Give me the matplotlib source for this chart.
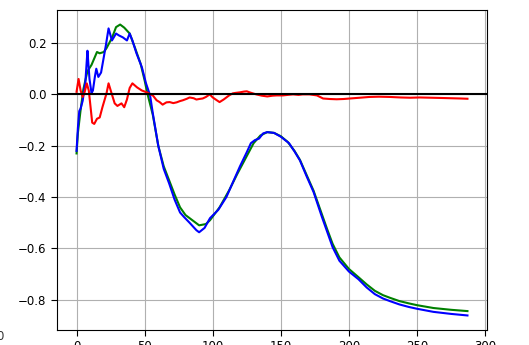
import numpy as np
import matplotlib.pyplot as plt

# green curve
x_verde = [0, 1, 3, 5, 8, 11, 13, 15, 17, 20, 22, 26, 29, 32, 35, 39, 43, 47, 50, 52,
           56, 60, 64, 68, 72, 76, 80, 85, 90, 95, 98, 105, 112, 118, 124, 130, 135, 140,
           145, 150, 155, 160, 164, 169, 174, 180, 184, 188, 193, 200, 207, 213, 219, 225,
           230, 237, 244, 250, 262, 275, 287]
y_verde = [-0.23, -0.15, -0.06, 0.02, 0.09, 0.115, 0.14, 0.165, 0.16, 0.165, 0.18, 0.22,
           0.262, 0.272, 0.26, 0.237, 0.18, 0.12, 0.054, 0.004, -0.08, -0.2, -0.28, -0.335,
           -0.39, -0.44, -0.47, -0.49, -0.51, -0.505, -0.49, -0.44, -0.374, -0.31, -0.25,
           -0.19, -0.16, -0.147, -0.15, -0.163, -0.185, -0.22, -0.255, -0.315, -0.375,
           -0.465, -0.525, -0.582, -0.635, -0.68, -0.712, -0.74, -0.765, -0.782, -0.792,
           -0.805, -0.814, -0.821, -0.832, -0.839, -0.844]

# blue curve
x_azul = [0, 1, 2, 3, 4.5, 6.5, 7.5, 8, 9.5, 11, 12, 13.5, 14.5, 16, 18, 19.5, 21.5, 23.5,
          26, 29, 31, 34, 37, 39, 41, 44, 48, 51, 54, 56, 60, 64, 68, 72, 76, 79, 83, 88,
          90, 94, 98, 104, 110, 115, 120, 125, 128, 131, 134, 137, 140, 145, 150, 156,
          160, 164, 169, 174, 180, 184, 188, 193, 200, 207, 213, 219, 225, 230, 237, 244,
          250, 262, 275, 287]
y_azul = [-0.22, -0.13, -0.065, -0.055, -0.025, 0.05, 0.13, 0.17, 0.06, 0.005, 0.015,
          0.07, 0.1, 0.068, 0.085, 0.13, 0.19, 0.257, 0.21, 0.237, 0.23, 0.222, 0.21, 0.237,
          0.21, 0.16, 0.105, 0.043, -0.004, -0.074, -0.2, -0.29, -0.347, -0.41, -0.46,
          -0.478, -0.5, -0.529, -0.537, -0.52, -0.482, -0.45, -0.4, -0.34, -0.28, -0.225,
          -0.19, -0.178, -0.172, -0.152, -0.147, -0.15, -0.165, -0.19, -0.222, -0.257,
          -0.32, -0.38, -0.475, -0.535, -0.595, -0.648, -0.69, -0.72, -0.752, -0.778,
          -0.795, -0.805, -0.818, -0.828, -0.835, -0.847, -0.855, -0.861]

# red curve
x_vermelho = [0, 1.5, 3, 4.5, 6, 7.5, 9, 10.5, 11.5, 13, 15, 17, 19, 22, 23.5, 25.5, 28,
              30, 33, 35, 37, 39, 41, 44.5, 48, 51.5, 56, 58.8, 61, 63.2, 66, 68.4, 71,
              73.5, 76, 78, 81, 83, 86, 88, 90, 92.6, 95, 97.8, 100, 103, 105, 108, 110,
              112, 114.7, 117, 120, 123, 125, 127, 130, 132, 136, 140, 144, 147, 151.5,
              155, 159, 163, 166, 171, 176.5, 181, 186, 191, 196, 200.7, 208, 215, 222,
              230, 238, 245, 252, 260, 268, 275, 282, 287]
y_vermelho = [0.01, 0.06, 0.015, -0.01, 0.01, 0.043, 0.015, -0.06, -0.11, -0.115, -0.095,
              -0.09, -0.05, 0.004, 0.043, 0.008, -0.035, -0.045, -0.035, -0.05, -0.02,
              0.025, 0.043, 0.027, 0.015, 0.008, -0.004, -0.023, -0.03, -0.04, -0.031,
              -0.03, -0.034, -0.031, -0.026, -0.023, -0.017, -0.012, -0.015, -0.02, -0.018,
              -0.016, -0.01, 0.0, -0.012, -0.023, -0.03, -0.02, -0.012, -0.004, 0.004, 0.006,
              0.008, 0.011, 0.012, 0.008, 0.003, 0.0, -0.005, -0.008, -0.005, -0.004,
              -0.004, -0.002, 0.0, -0.002, 0.0, 0.0, -0.004, -0.016, -0.018, -0.019, -0.018,
              -0.016, -0.013, -0.01, -0.009, -0.01, -0.012, -0.013, -0.012, -0.013, -0.014,
              -0.015, -0.016, -0.017]

fig = plt.figure(figsize=(5.29, 3.45), dpi=100)
ax = fig.add_axes([57/529, 15/345, 430/529, 320/345])

ax.plot(x_verde, y_verde, color='green', linewidth=1.5)
ax.plot(x_azul, y_azul, color='blue', linewidth=1.5)
ax.plot(x_vermelho, y_vermelho, color='red', linewidth=1.5)
ax.axhline(0, color='black', linewidth=1.5)

ax.grid(True, color='#b0b0b0', linewidth=0.8)
ax.set_axisbelow(True)
ax.tick_params(labelsize=8.5, length=4)

# pedaço de rótulo que sobra na borda esquerda
fig.text(-0.007, 0.026, '0', fontsize=8.5, color='#333333', va='center')

plt.savefig('out.png', dpi=100)
